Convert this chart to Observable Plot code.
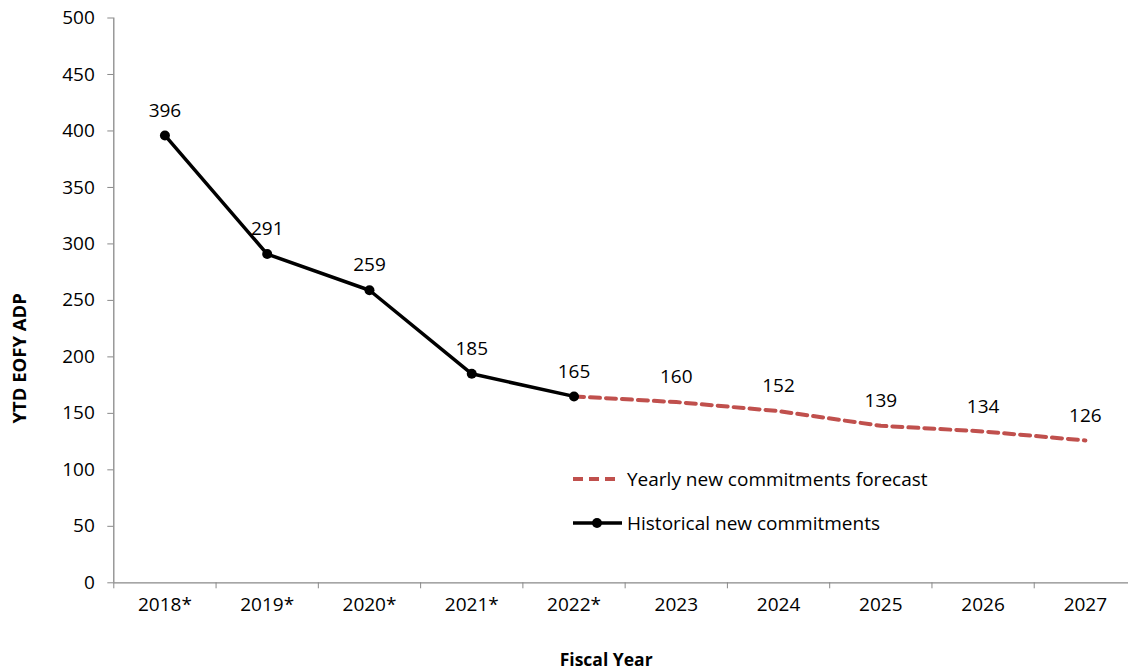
<!DOCTYPE html>
<html>
<head>
<meta charset="utf-8">
<script src="https://cdn.jsdelivr.net/npm/d3@7"></script>
<script src="https://cdn.jsdelivr.net/npm/@observablehq/plot@0.6"></script>
<style>
  html, body { margin: 0; padding: 0; background: #fff; overflow: hidden; }
  #wrap { position: relative; width: 1128px; height: 671px; overflow: hidden; font-family: "Open Sans", sans-serif; }
  #wrap > svg { max-width: none !important; position: absolute; left: 0; top: 0; }
  #legend { position: absolute; left: 572px; top: 467px; font-size: 19px; color: #000; }
  #legend .row { display: flex; align-items: center; height: 24px; margin-bottom: 20px; }
  #legend svg { margin-right: 5px; }
</style>
</head>
<body>
<div id="wrap"></div>
<script>
const categories = ["2018*", "2019*", "2020*", "2021*", "2022*", "2023", "2024", "2025", "2026", "2027"];
const historical = [396, 291, 259, 185, 165, null, null, null, null, null];
const forecast = [null, null, null, null, 165, 160, 152, 139, 134, 126];
const labels = [396, 291, 259, 185, 165, 160, 152, 139, 134, 126];
const yTicks = [0, 50, 100, 150, 200, 250, 300, 350, 400, 450, 500];
const seriesNames = ["Yearly new commitments forecast", "Historical new commitments"];
const yTitle = "YTD EOFY ADP";
const xTitle = "Fiscal Year";

const red = "#C0504D";
const axisGray = "#898989";

const hist = historical.map((v, i) => ({i, v})).filter(d => d.v != null);
const fc = forecast.map((v, i) => ({i, v})).filter(d => d.v != null);
const lab = labels.map((v, i) => ({i, v}));
const boundaries = d3.range(0, categories.length + 1);
const centers = d3.range(categories.length);

const chart = Plot.plot({
  width: 1136,
  height: 671,
  marginLeft: 113.3,
  marginRight: 0,
  marginTop: 17.5,
  marginBottom: 88.7,
  style: {fontFamily: "Open Sans, sans-serif", fontSize: "19px", color: "#000", background: "#fff", maxWidth: "none"},
  x: {type: "linear", domain: [0, categories.length]},
  y: {domain: [0, 500]},
  marks: [
    // y axis
    Plot.axisY(yTicks, {tickSize: 6, tickPadding: 13, stroke: axisGray, fill: "#000", fontSize: 19, label: null}),
    Plot.ruleX([0], {stroke: axisGray, strokeWidth: 1.3}),
    // x axis: boundary ticks + centered labels
    Plot.axisX(boundaries, {tickSize: 6, tickFormat: () => "", stroke: axisGray, label: null}),
    Plot.axisX(centers.map(i => i + 0.5), {tickSize: 0, tickPadding: 15, tickFormat: d => categories[Math.floor(d)], fill: "#000", fontSize: 19, label: null}),
    Plot.ruleY([0], {stroke: axisGray, strokeWidth: 1.3}),
    // series
    Plot.line(fc, {x: d => d.i + 0.5, y: "v", stroke: red, strokeWidth: 4, strokeDasharray: "10,6"}),
    Plot.line(hist, {x: d => d.i + 0.5, y: "v", stroke: "#000", strokeWidth: 3.5}),
    Plot.dot(hist, {x: d => d.i + 0.5, y: "v", r: 5, fill: "#000"}),
    Plot.text(lab, {x: d => d.i + 0.5, y: "v", text: d => String(d.v), dy: -25, fontSize: 19, fill: "#000"}),
    // axis titles
    Plot.text([yTitle], {frameAnchor: "left", textAnchor: "middle", rotate: -90, dx: -94, dy: 58, fontWeight: "bold", fontSize: 18.5, fill: "#000"}),
    Plot.text([xTitle], {frameAnchor: "bottom", textAnchor: "middle", dx: -19, dy: 83, fontWeight: "bold", fontSize: 17.5, fill: "#000"})
  ]
});

const wrap = document.getElementById("wrap");
wrap.appendChild(chart);

const legend = document.createElement("div");
legend.id = "legend";
legend.innerHTML = `
  <div class="row"><svg width="50" height="10"><line x1="1" x2="48" y1="5" y2="5" stroke="${red}" stroke-width="4" stroke-dasharray="10,6"/></svg><span>${seriesNames[0]}</span></div>
  <div class="row"><svg width="50" height="12"><line x1="1" x2="50" y1="6" y2="6" stroke="#000" stroke-width="3.5"/><circle cx="25" cy="6" r="5" fill="#000"/></svg><span>${seriesNames[1]}</span></div>
`;
wrap.appendChild(legend);
</script>
</body>
</html>
